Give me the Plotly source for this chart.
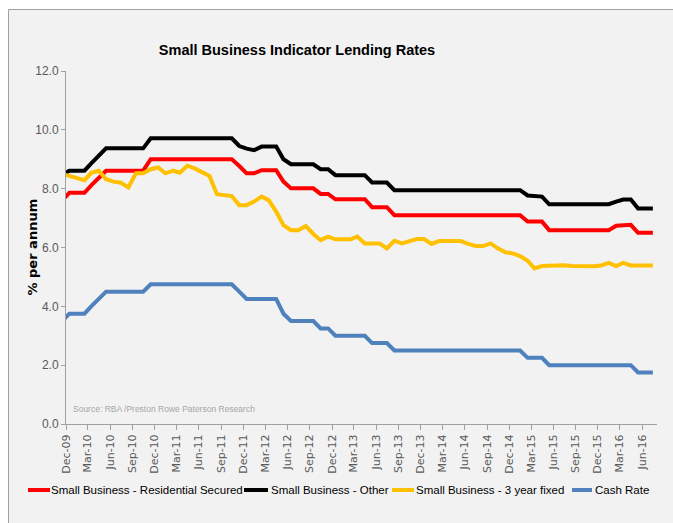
import pandas as pd
import plotly.graph_objects as go

# Monthly observations (end-of-month values), Nov-09 .. Jul-16, plotted mid-month
months = pd.date_range("2009-11-01", "2016-07-01", freq="MS") + pd.Timedelta(days=14)

residential_secured = [
    7.60, 7.86,
    7.86, 7.86, 8.11, 8.36, 8.61, 8.61, 8.61, 8.61, 8.61, 8.61, 9.00, 9.00,
    9.00, 9.00, 9.00, 9.00, 9.00, 9.00, 9.00, 9.00, 9.00, 9.00, 8.77, 8.52,
    8.52, 8.63, 8.63, 8.63, 8.24, 8.01, 8.01, 8.01, 8.01, 7.82, 7.82, 7.64,
    7.64, 7.64, 7.64, 7.64, 7.37, 7.37, 7.37, 7.10, 7.10, 7.10, 7.10, 7.10,
    7.10, 7.10, 7.10, 7.10, 7.10, 7.10, 7.10, 7.10, 7.10, 7.10, 7.10, 7.10,
    7.10, 6.88, 6.88, 6.88, 6.59, 6.59, 6.59, 6.59, 6.59, 6.59, 6.59, 6.59,
    6.59, 6.74, 6.77, 6.77, 6.50, 6.50, 6.50,
]
other = [
    8.47, 8.61,
    8.61, 8.61, 8.86, 9.11, 9.37, 9.37, 9.37, 9.37, 9.37, 9.37, 9.71, 9.71,
    9.71, 9.71, 9.71, 9.71, 9.71, 9.71, 9.71, 9.71, 9.71, 9.71, 9.45, 9.36,
    9.31, 9.43, 9.43, 9.43, 9.00, 8.83, 8.83, 8.83, 8.83, 8.66, 8.66, 8.46,
    8.46, 8.46, 8.46, 8.46, 8.21, 8.21, 8.21, 7.95, 7.95, 7.95, 7.95, 7.95,
    7.95, 7.95, 7.95, 7.95, 7.95, 7.95, 7.95, 7.95, 7.95, 7.95, 7.95, 7.95,
    7.95, 7.77, 7.75, 7.73, 7.47, 7.47, 7.47, 7.47, 7.47, 7.47, 7.47, 7.47,
    7.47, 7.56, 7.63, 7.63, 7.33, 7.33, 7.33,
]
fixed_3yr = [
    8.50, 8.43,
    8.38, 8.29, 8.54, 8.61, 8.32, 8.24, 8.20, 8.04, 8.52, 8.52, 8.66, 8.72,
    8.52, 8.61, 8.54, 8.78, 8.69, 8.54, 8.43, 7.81, 7.79, 7.75, 7.44, 7.44,
    7.56, 7.73, 7.61, 7.22, 6.76, 6.59, 6.59, 6.73, 6.46, 6.25, 6.37, 6.28,
    6.28, 6.28, 6.37, 6.14, 6.14, 6.14, 5.97, 6.23, 6.14, 6.22, 6.29, 6.29,
    6.12, 6.22, 6.22, 6.22, 6.22, 6.12, 6.05, 6.05, 6.14, 5.97, 5.84, 5.80,
    5.71, 5.55, 5.29, 5.37, 5.39, 5.40, 5.40, 5.37, 5.36, 5.36, 5.36, 5.39,
    5.48, 5.37, 5.48, 5.39, 5.39, 5.39, 5.39,
]
cash_rate = [
    3.50, 3.75,
    3.75, 3.75, 4.00, 4.25, 4.50, 4.50, 4.50, 4.50, 4.50, 4.50, 4.75, 4.75,
    4.75, 4.75, 4.75, 4.75, 4.75, 4.75, 4.75, 4.75, 4.75, 4.75, 4.50, 4.25,
    4.25, 4.25, 4.25, 4.25, 3.75, 3.50, 3.50, 3.50, 3.50, 3.25, 3.25, 3.00,
    3.00, 3.00, 3.00, 3.00, 2.75, 2.75, 2.75, 2.50, 2.50, 2.50, 2.50, 2.50,
    2.50, 2.50, 2.50, 2.50, 2.50, 2.50, 2.50, 2.50, 2.50, 2.50, 2.50, 2.50,
    2.50, 2.25, 2.25, 2.25, 2.00, 2.00, 2.00, 2.00, 2.00, 2.00, 2.00, 2.00,
    2.00, 2.00, 2.00, 2.00, 1.75, 1.75, 1.75,
]

series_names = [
    "Small Business - Residential Secured",
    "Small Business - Other",
    "Small Business - 3 year fixed",
    "Cash Rate",
]
series_values = [residential_secured, other, fixed_3yr, cash_rate]
series_colors = ["#ff0000", "#000000", "#ffc000", "#4f81bd"]

title_text = "Small Business Indicator Lending Rates"
y_title = "% per annum"
source_text = "Source: RBA /Preston Rowe Paterson Research"

W, H = 673, 523
ML, MR, MT, MB = 66, 16, 71, 99
PW, PH = W - ML - MR, H - MT - MB

def px_x(p):
    return (p - ML) / PW

def px_y(p):
    return (H - MB - p) / PH

SANS = "Liberation Sans, Arial, sans-serif"
TICKF = "DejaVu Sans, Verdana, sans-serif"

fig = go.Figure()
for name, vals, col in zip(series_names, series_values, series_colors):
    fig.add_trace(go.Scatter(
        x=months, y=vals, name=name, mode="lines",
        line=dict(color=col, width=4),
        showlegend=False,
    ))

fig.update_layout(
    width=W, height=H,
    margin=dict(l=ML, r=MR, t=MT, b=MB),
    paper_bgcolor="#f2f2f2",
    plot_bgcolor="#f2f2f2",
    title=dict(text="<b>" + title_text + "</b>", x=297 / W, xanchor="center",
               y=1 - 50 / H, yanchor="middle", yref="container",
               font=dict(family=SANS, size=14.5, color="#000000")),
    xaxis=dict(type="date", range=["2009-12-01", "2016-08-01"],
               tick0="2009-12-01", dtick="M3", tickformat="%b-%y",
               tickangle=-90, ticks="outside", ticklen=5, tickcolor="#a0a0a0",
               showline=True, linecolor="#a0a0a0", linewidth=1,
               showgrid=False, zeroline=False,
               tickfont=dict(family=TICKF, size=11, color="#595959")),
    yaxis=dict(range=[0, 12], dtick=2, tick0=0, tickformat=".1f",
               ticks="outside", ticklen=4, tickcolor="#a0a0a0",
               showline=True, linecolor="#a0a0a0", linewidth=1,
               showgrid=False, zeroline=False,
               tickfont=dict(family=SANS, size=12, color="#595959")),
)

fig.add_annotation(text="<b>" + y_title + "</b>", xref="paper", yref="paper",
                   x=px_x(32), y=0.5, xanchor="center", yanchor="middle",
                   textangle=-90, showarrow=False,
                   font=dict(family=TICKF, size=13, color="#000000"))
fig.add_annotation(text=source_text, xref="paper", yref="paper",
                   x=px_x(71), y=px_y(409), xanchor="left", yanchor="middle",
                   showarrow=False,
                   font=dict(family=SANS, size=8.5, color="#a6a6a6"))

# legend drawn below the axis: swatch start/end and text start in pixels
legend_swatch = [(28, 50), (244, 268), (392, 414), (572, 592)]
legend_text_x = [50, 270, 415, 594]
legend_y = 490
for name, col, (s0, s1), tx in zip(series_names, series_colors, legend_swatch, legend_text_x):
    fig.add_shape(type="line", xref="paper", yref="paper",
                  x0=px_x(s0), x1=px_x(s1), y0=px_y(legend_y), y1=px_y(legend_y),
                  line=dict(color=col, width=4))
    fig.add_annotation(text=name, xref="paper", yref="paper",
                       x=px_x(tx), y=px_y(legend_y), xanchor="left", yanchor="middle",
                       showarrow=False, xshift=-1,
                       font=dict(family=SANS, size=11.5, color="#000000"))

# outer frame: white margin strip top/left with grey border line
fig.add_shape(type="rect", xref="paper", yref="paper", layer="below",
              x0=px_x(-2), x1=px_x(8.5), y0=px_y(H + 2), y1=px_y(-2),
              fillcolor="#ffffff", line=dict(width=0))
fig.add_shape(type="rect", xref="paper", yref="paper", layer="below",
              x0=px_x(-2), x1=px_x(W + 2), y0=px_y(9.5), y1=px_y(-2),
              fillcolor="#ffffff", line=dict(width=0))
fig.add_shape(type="line", xref="paper", yref="paper", layer="below",
              x0=px_x(8.5), x1=px_x(8.5), y0=px_y(9.5), y1=px_y(H + 2),
              line=dict(color="#a0a0a0", width=1))
fig.add_shape(type="line", xref="paper", yref="paper", layer="below",
              x0=px_x(8.5), x1=px_x(W + 2), y0=px_y(9.5), y1=px_y(9.5),
              line=dict(color="#a0a0a0", width=1))

fig.write_html(
    "out.html",
    config={"displayModeBar": False},
    post_script="document.body.style.margin='0px';document.body.style.overflow='hidden';",
)
